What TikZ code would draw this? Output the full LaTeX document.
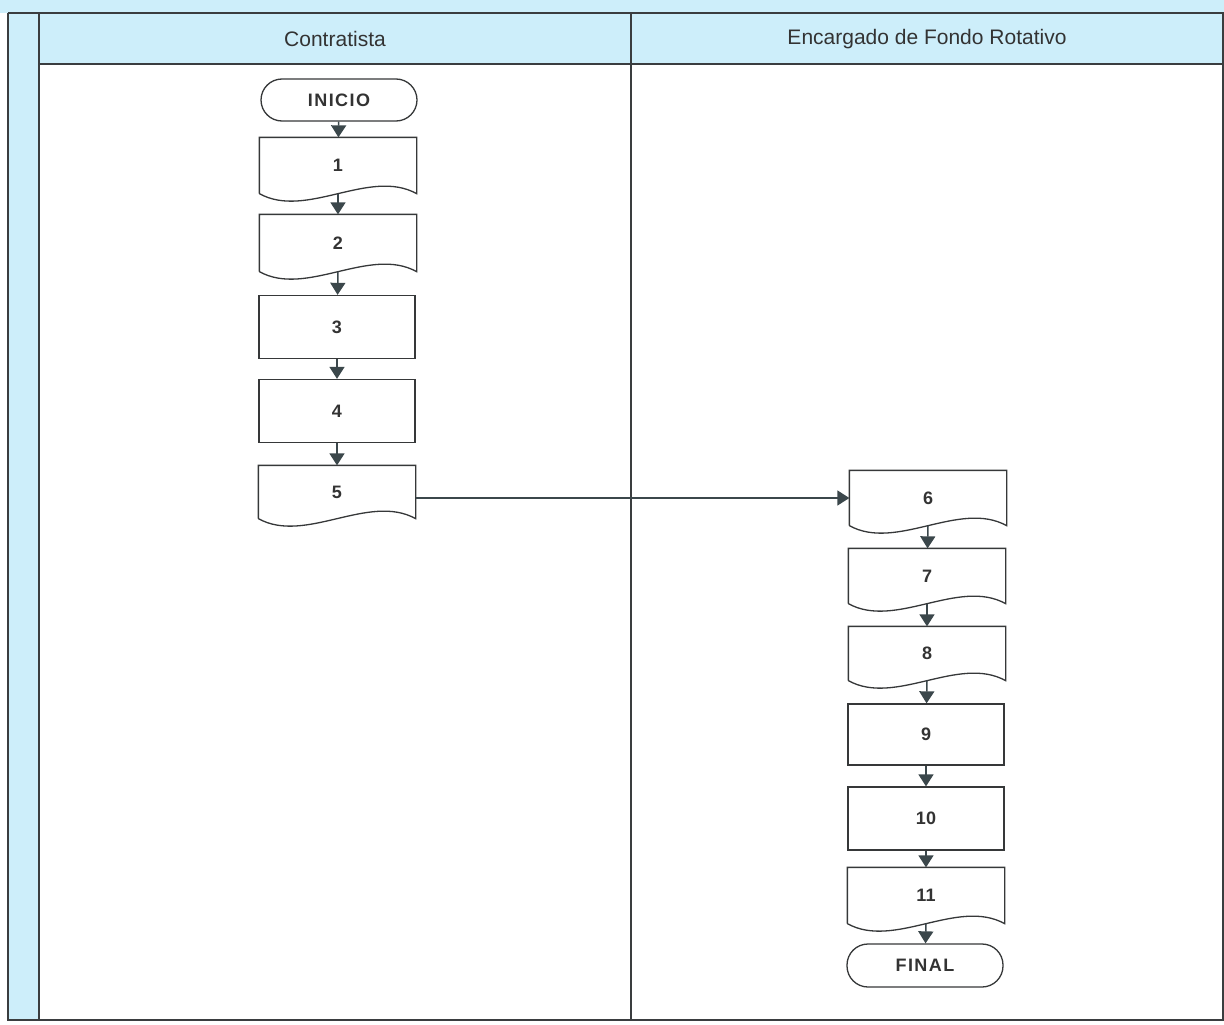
\documentclass[tikz,border=0pt]{standalone}
\usepackage{fontspec}
\setmainfont{Liberation Sans}
\usetikzlibrary{arrows.meta}

\definecolor{lanefill}{HTML}{CDEEFA}
\definecolor{frameline}{HTML}{3A3D3F}
\definecolor{boxline}{HTML}{363839}
\definecolor{arrowcol}{HTML}{3B474B}
\definecolor{labelcol}{HTML}{333333}

\tikzset{
  frame/.style={draw=frameline, line width=1.4pt},
  box/.style={draw=boxline, line width=1.3pt, fill=white, minimum width=156pt,
    inner sep=0pt, font=\fontsize{18}{20}\selectfont\bfseries, text=labelcol},
  procbox/.style={box},
  docbox/.style={box, draw=none},
  docline/.style={draw=boxline, line width=1.3pt, line join=miter},
  termbox/.style={box, rounded corners=21pt,
    font=\fontsize{18}{20}\selectfont\bfseries\addfontfeature{LetterSpace=8}},
  flow/.style={draw=arrowcol, line width=1.5pt,
    -{Triangle[width=15pt,length=12pt]}},
  lanehead/.style={font=\fontsize{21}{24}\selectfont, text=labelcol}
}

\begin{document}
\begin{tikzpicture}[x=1pt, y=-1pt]
  \useasboundingbox (0,0) rectangle (1224,1025);

  % background band, left strip and header row
  \fill[lanefill] (0,0) rectangle (1224,13);
  \fill[lanefill] (8,13) rectangle (39,1020);
  \fill[lanefill] (39,13) rectangle (1224,64);

  % swimlane frame
  \draw[frame] (8,13) -- (1224,13);
  \draw[frame] (39,64) -- (1224,64);
  \draw[frame] (8,13) -- (8,1020) -- (1224,1020);
  \draw[frame] (39,13) -- (39,1020);
  \draw[frame] (631,13) -- (631,1020);
  \draw[frame] (1223,13) -- (1223,1020);

  % lane titles
  \node[lanehead] (hc) at (335,39) {Contratista};
  \node[lanehead] (he) at (927,39) {Encargado de Fondo Rotativo};

  % Contratista lane
  \node[termbox, minimum height=42pt] (ini) at (339,100) {INICIO};
  \node[docbox, minimum height=55pt] (d1) at (338,165.5) {1};
  \node[docbox, minimum height=56pt] (d2) at (338,243) {2};
  \node[procbox, minimum height=63pt] (r3) at (337,327) {3};
  \node[procbox, minimum height=63pt] (r4) at (337,411) {4};
  \node[docbox, minimum height=52pt] (d5) at (337,492) {5};

  % Encargado de Fondo Rotativo lane
  \node[docbox, minimum height=54pt] (d6) at (928,498) {6};
  \node[docbox, minimum height=54pt] (d7) at (927,576) {7};
  \node[docbox, minimum height=53pt] (d8) at (927,653.5) {8};
  \node[procbox, minimum height=61pt] (r9) at (926,734.5) {9};
  \node[procbox, minimum height=63pt] (r10) at (926,818.5) {10};
  \node[docbox, minimum height=55pt] (d11) at (926,895.5) {11};
  \node[termbox, minimum height=43pt] (fin) at (925,965.5) {FINAL};

  % document outlines with wavy bottom edge
  \foreach \n in {d1,d2,d5,d6,d7,d8,d11}{
    \draw[docline] (\n.south west) -- (\n.north west) -- (\n.north east)
      -- (\n.south east) .. controls +(-47,-26) and +(47,26) .. (\n.south west);
  }

  % connectors
  \coordinate (out5) at (d5.east |- d6.west);
  \draw[flow] (ini) -- (d1);
  \draw[flow] (d1.south) -- (d2);
  \draw[flow] (d2.south) -- (r3);
  \draw[flow] (r3) -- (r4);
  \draw[flow] (r4) -- (d5);
  \draw[flow] (out5) -- (d6.west);
  \draw[flow] (d6.south) -- (d7);
  \draw[flow] (d7.south) -- (d8);
  \draw[flow] (d8.south) -- (r9);
  \draw[flow] (r9) -- (r10);
  \draw[flow] (r10) -- (d11);
  \draw[flow] (d11.south) -- (fin);
\end{tikzpicture}
\end{document}
